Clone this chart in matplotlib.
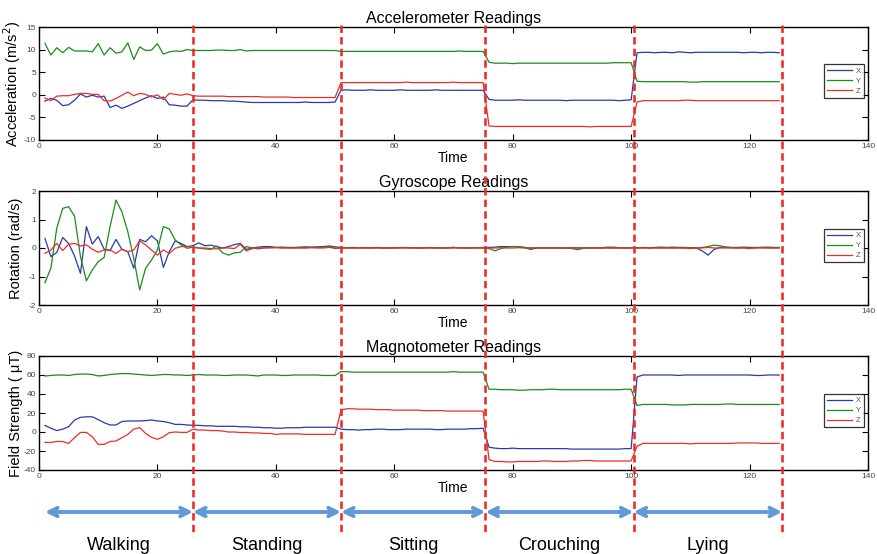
import matplotlib
matplotlib.use("Agg")
import matplotlib.pyplot as plt
import numpy as np

plt.rcParams['font.family'] = ['Liberation Sans', 'DejaVu Sans']
plt.rcParams['axes.unicode_minus'] = False

t = np.arange(1, 126)

# activity boundaries (time) and names
bounds = [1, 26, 51, 75.4, 100.4, 125.5]
activities = ["Walking", "Standing", "Sitting", "Crouching", "Lying"]

# accelerometer (m/s^2)
acc_x = [-1.4, -0.8, -1.2, -2.4, -2.2, -1.2, 0.2, -0.5, -0.1, -0.5, -0.3, -2.8, -2.3, -3.0, -2.5, -1.9, -1.3, -0.7, -0.2, -0.8, -0.5, -2.2, -2.3, -2.5, -2.5,
         -1.1, -1.2, -1.2, -1.3, -1.3, -1.3, -1.4, -1.4, -1.5, -1.6, -1.7, -1.7, -1.7, -1.7, -1.7, -1.7, -1.7, -1.7, -1.7, -1.6, -1.7, -1.7, -1.7, -1.7, -1.6,
         1.0, 1.1, 1.0, 1.0, 1.0, 1.1, 1.0, 1.0, 1.0, 1.0, 1.1, 1.0, 1.0, 1.0, 1.0, 1.0, 1.1, 1.0, 1.0, 1.0, 1.0, 1.0, 1.0, 1.0, 1.0,
         -1.0, -1.2, -1.2, -1.2, -1.2, -1.1, -1.2, -1.2, -1.2, -1.2, -1.2, -1.2, -1.2, -1.3, -1.2, -1.2, -1.2, -1.2, -1.2, -1.2, -1.2, -1.2, -1.3, -1.2, -1.1,
         9.3, 9.4, 9.4, 9.3, 9.4, 9.4, 9.3, 9.5, 9.4, 9.3, 9.4, 9.4, 9.4, 9.4, 9.4, 9.4, 9.4, 9.4, 9.3, 9.4, 9.4, 9.3, 9.4, 9.4, 9.3]
acc_y = [11.4, 8.8, 10.4, 9.3, 10.5, 9.7, 9.7, 9.7, 9.5, 11.3, 8.8, 10.4, 9.2, 9.5, 11.5, 7.8, 10.6, 9.8, 9.9, 11.3, 9.0, 9.5, 9.7, 9.6, 10.0,
         9.8, 9.8, 9.8, 9.8, 9.9, 9.9, 9.8, 9.8, 10.0, 9.7, 9.8, 9.8, 9.8, 9.8, 9.8, 9.8, 9.8, 9.8, 9.8, 9.8, 9.8, 9.8, 9.8, 9.8, 9.8,
         9.6, 9.6, 9.6, 9.6, 9.6, 9.6, 9.6, 9.6, 9.6, 9.6, 9.6, 9.6, 9.6, 9.6, 9.6, 9.6, 9.6, 9.6, 9.6, 9.6, 9.7, 9.6, 9.6, 9.6, 9.6,
         7.2, 7.0, 7.0, 7.0, 6.9, 7.0, 7.0, 7.0, 7.0, 7.0, 7.0, 7.0, 7.0, 7.0, 7.0, 7.0, 7.0, 7.0, 7.0, 7.0, 7.0, 7.1, 7.1, 7.1, 7.1,
         3.0, 2.9, 2.9, 2.9, 2.9, 2.9, 2.9, 2.9, 2.9, 2.8, 2.8, 2.9, 2.9, 2.9, 2.9, 2.9, 2.9, 2.9, 2.9, 2.9, 2.9, 2.9, 2.9, 2.9, 2.9]
acc_z = [-0.7, -1.3, -0.3, -0.2, -0.2, 0.1, 0.3, 0.3, 0.1, 0.1, -1.3, -1.4, -0.8, -0.1, 0.6, -0.2, 0.3, 0.1, -0.5, 0.0, -1.1, 0.3, 0.1, -0.1, 0.2,
         -0.2, -0.3, -0.3, -0.3, -0.3, -0.3, -0.4, -0.4, -0.4, -0.4, -0.4, -0.4, -0.5, -0.5, -0.5, -0.5, -0.5, -0.6, -0.6, -0.6, -0.6, -0.6, -0.6, -0.6, -0.6,
         2.7, 2.7, 2.7, 2.7, 2.7, 2.7, 2.7, 2.7, 2.7, 2.7, 2.7, 2.8, 2.7, 2.7, 2.7, 2.7, 2.7, 2.7, 2.7, 2.8, 2.7, 2.7, 2.7, 2.7, 2.7,
         -6.9, -7.0, -7.0, -7.0, -7.0, -7.0, -7.0, -7.0, -7.0, -7.0, -7.0, -7.0, -7.0, -7.0, -7.0, -7.0, -7.0, -7.1, -7.0, -7.0, -7.0, -7.0, -7.0, -7.0, -7.0,
         -1.6, -1.3, -1.3, -1.3, -1.3, -1.3, -1.3, -1.3, -1.2, -1.2, -1.3, -1.3, -1.3, -1.3, -1.3, -1.3, -1.3, -1.3, -1.3, -1.3, -1.3, -1.3, -1.3, -1.3, -1.3]

# gyroscope (rad/s)
gyr_x = [0.34, -0.30, -0.16, 0.37, 0.16, -0.28, -0.89, 0.75, 0.14, 0.40, -0.04, -0.09, 0.30, -0.05, -0.13, -0.71, 0.30, 0.22, 0.43, 0.25, -0.68, -0.13, 0.25, 0.16, 0.05,
         0.08, 0.18, 0.08, 0.10, 0.05, 0.00, 0.05, 0.12, 0.16, -0.05, 0.00, 0.03, 0.05, 0.05, 0.02, 0.03, 0.02, 0.02, 0.03, 0.04, 0.03, 0.04, 0.05, 0.07, 0.04,
         0.02, 0.01, 0.02, 0.01, 0.00, 0.01, 0.02, 0.01, 0.00, 0.01, 0.01, 0.02, 0.01, 0.00, 0.01, 0.02, 0.01, 0.00, 0.01, 0.02, 0.01, 0.00, 0.01, 0.01, 0.02,
         0.02, 0.03, 0.05, 0.05, 0.05, 0.04, 0.02, -0.05, 0.00, 0.01, 0.01, 0.00, 0.01, 0.00, 0.01, 0.00, 0.01, 0.00, 0.01, 0.00, 0.01, 0.00, 0.01, 0.00, 0.01,
         0.01, 0.02, 0.01, 0.02, 0.03, 0.02, 0.03, 0.02, 0.02, 0.01, 0.00, -0.10, -0.25, -0.05, 0.02, 0.03, 0.02, 0.02, 0.03, 0.02, 0.02, 0.02, 0.03, 0.02, 0.02]
gyr_y = [-1.22, -0.71, 0.69, 1.39, 1.45, 1.12, -0.30, -1.15, -0.77, -0.48, -0.33, 0.75, 1.68, 1.27, 0.57, -0.36, -1.47, -0.71, -0.42, -0.07, 0.75, 0.67, 0.28, 0.11, -0.01,
         0.03, 0.00, -0.03, -0.05, 0.07, -0.17, -0.25, -0.17, -0.15, 0.05, 0.00, -0.03, 0.00, 0.02, 0.02, 0.01, 0.01, 0.00, 0.01, 0.01, 0.02, 0.02, 0.03, 0.05, -0.02,
         0.00, 0.01, 0.00, 0.01, 0.02, 0.00, 0.01, 0.00, 0.01, 0.00, 0.02, 0.01, 0.00, 0.01, 0.00, 0.01, 0.00, 0.01, 0.00, 0.02, 0.00, 0.01, 0.00, 0.01, 0.00,
         -0.02, -0.10, -0.02, 0.03, 0.05, 0.05, 0.02, 0.00, 0.01, 0.00, 0.00, 0.01, 0.00, 0.00, -0.02, -0.06, 0.00, 0.01, 0.00, 0.01, 0.03, 0.03, 0.01, 0.00, 0.01,
         0.00, 0.01, 0.00, 0.01, 0.00, 0.01, 0.00, 0.01, 0.00, 0.01, 0.00, 0.02, 0.05, 0.10, 0.08, 0.03, 0.01, 0.00, 0.01, 0.00, 0.01, 0.02, 0.01, 0.00, 0.01]
gyr_z = [-0.19, -0.07, 0.16, -0.09, 0.13, 0.16, 0.07, 0.11, -0.04, -0.15, -0.07, -0.07, -0.19, -0.04, -0.13, -0.07, 0.25, 0.11, -0.07, -0.25, -0.07, -0.19, -0.01, 0.05, 0.05,
         0.02, 0.00, 0.00, -0.02, -0.03, 0.00, 0.00, -0.02, 0.13, -0.10, -0.02, 0.00, 0.01, 0.00, 0.01, 0.00, 0.00, 0.00, 0.00, 0.00, 0.01, 0.00, 0.00, 0.02, 0.00,
         0.00, 0.00, 0.00, 0.00, 0.00, 0.00, 0.00, 0.00, 0.00, 0.00, 0.00, 0.00, 0.00, 0.00, 0.00, 0.00, 0.00, 0.00, 0.00, 0.00, 0.00, 0.00, 0.00, 0.00, 0.00,
         0.00, 0.00, 0.01, 0.00, 0.00, 0.01, 0.00, 0.00, 0.00, 0.00, 0.00, 0.00, 0.00, 0.00, 0.00, 0.00, 0.00, 0.00, 0.00, 0.00, 0.00, 0.00, 0.00, 0.00, 0.00,
         0.00, 0.00, 0.00, 0.00, 0.00, 0.00, 0.00, 0.00, 0.00, -0.02, 0.00, 0.00, 0.02, 0.00, 0.00, 0.00, 0.00, 0.00, 0.00, -0.02, 0.00, 0.00, 0.00, 0.00, 0.00]

# magnetometer (uT)
mag_x = [7, 4, 1.5, 3, 5.6, 12.6, 15.4, 16, 16, 13, 9.8, 7.4, 7.4, 11, 11.6, 11.6, 11.6, 12, 12.6, 11.6, 11, 9.8, 8, 8, 7.4,
         7, 7, 6.5, 6.5, 6, 6, 6, 6, 5.5, 5.5, 5, 5, 4.5, 4.5, 4, 4, 4.5, 4.5, 4.5, 5, 5, 5, 5, 5, 5,
         3, 2.5, 2.5, 2, 2.5, 2.5, 3, 3, 2.5, 2.5, 2.5, 3, 3, 3, 3, 3, 2.5, 2.5, 3, 3, 3, 3, 3.5, 3.5, 4,
         -16, -17, -17.5, -17.5, -17, -17.5, -17.5, -17.5, -17.5, -17.5, -17.5, -17.5, -17.5, -17.5, -18, -18, -18, -18, -18, -18, -18, -18, -18, -17.5, -17.5,
         58, 60, 60, 60, 60, 60, 60, 59.5, 60, 60, 60, 60, 60, 60, 60, 60, 60, 60, 60, 60, 59.5, 59.5, 60, 60, 60]
mag_y = [59, 59.5, 60, 60, 59.5, 60.5, 61, 61, 60.5, 59, 59.5, 60.5, 61, 61.5, 61.5, 61, 60.5, 60, 59.5, 60, 60.5, 60.5, 60, 60, 59.5,
         60, 60.5, 60, 60, 60, 59.5, 59.5, 60, 60, 60, 59.5, 59, 60, 60, 60, 59.5, 59.5, 60, 60, 60, 60, 60, 59.5, 59.5, 59.5,
         63.5, 63.5, 63, 63, 63, 63, 63, 63, 63, 63, 63, 63, 63, 63, 63, 63, 63, 63, 63, 63.5, 63, 63, 63, 63, 63,
         45, 45, 44.5, 44.5, 44.5, 44, 44, 44.5, 44.5, 44.5, 45, 45, 44.5, 44.5, 44.5, 44.5, 44.5, 44.5, 44.5, 44.5, 44.5, 44.5, 44.5, 45, 45,
         28, 29, 29, 29, 29, 29, 28.5, 28.5, 28.5, 29, 29, 29, 29, 29, 29, 29.5, 29.5, 29, 29, 29, 29, 29, 29, 29, 29]
mag_z = [-11, -11, -10, -10, -12, -6, -0.4, -0.4, -5, -13, -13, -10, -9.5, -6, -2.5, 3, 4.6, -1.4, -5.6, -7.7, -5, -0.7, 0, -0.4, -0.4,
         3, 2, 2, 1.5, 1.5, 1, 0, 0, -0.5, -0.5, -1, -1, -1.5, -1.5, -2.5, -2, -2, -2, -2, -2.5, -2.5, -2.5, -2.5, -2.5, -2.5,
         23, 24.5, 24.5, 24, 24, 24, 23.5, 23.5, 23.5, 23, 23, 23, 23, 23, 22.5, 22.5, 22.5, 22.5, 22, 22, 22, 22, 22, 22, 22,
         -29, -31, -31, -31.5, -31.5, -31, -31, -31, -31, -30.5, -30.5, -31, -31, -31, -30.5, -30.5, -30, -30, -30.5, -30.5, -30.5, -30.5, -30.5, -30.5, -30.5,
         -15, -12, -12, -12, -12, -12, -12, -12, -12, -12.5, -12, -12, -12, -12, -12, -12, -12, -11.5, -11.5, -11.5, -11.5, -12, -12, -12, -12]

W, H = 878, 554
fig = plt.figure(figsize=(W / 100, H / 100), dpi=100)

left = 39 / W
width = (868 - 39) / W
blue, green, red = '#2a3aa8', '#1d8a1d', '#e8302a'

panels = [
    (27, 140, "Accelerometer Readings", "Acceleration (m/s$^2$)", (acc_x, acc_y, acc_z), (-10, 15), [-10, -5, 0, 5, 10, 15]),
    (191, 305, "Gyroscope Readings", "Rotation (rad/s)", (gyr_x, gyr_y, gyr_z), (-2, 2), [-2, -1, 0, 1, 2]),
    (356, 470, "Magnotometer Readings", "Field Strength ( \u03bcT)", (mag_x, mag_y, mag_z), (-40, 80), [-40, -20, 0, 20, 40, 60, 80]),
]

for top, bot, title, ylab, (sx, sy, sz), ylim, yt in panels:
    ax = fig.add_axes([left, 1 - bot / H, width, (bot - top) / H])
    ax.plot(t, sx, color=blue, lw=0.9, label='X')
    ax.plot(t, sy, color=green, lw=0.9, label='Y')
    ax.plot(t, sz, color=red, lw=0.9, label='Z')
    ax.set_xlim(0, 140)
    ax.set_ylim(*ylim)
    ax.set_xticks(range(0, 141, 20))
    ax.set_yticks(yt)
    ax.tick_params(direction='in', top=True, right=True, length=4, width=0.8,
                   labelsize=6, labelcolor='#444444', pad=2)
    for s in ax.spines.values():
        s.set_linewidth(1.0)
    ax.set_title(title, fontsize=11.5, pad=3)
    ax.set_xlabel("Time", fontsize=10, labelpad=1)
    ax.set_ylabel(ylab, fontsize=10.5)
    ax.yaxis.set_label_coords(-0.019, 0.5)
    leg = ax.legend(loc='center right', bbox_to_anchor=(0.9995, 0.52), fontsize=5.5,
                    frameon=True, fancybox=False, edgecolor='black', handlelength=3.2,
                    handletextpad=0.5, borderpad=0.4, labelspacing=0.35, labelcolor='#555555')
    leg.get_frame().set_linewidth(0.9)

# overlay for activity boundaries, arrows and labels (y in pixel units)
ov = fig.add_axes([left, 0, width, 1], zorder=10)
ov.set_xlim(0, 140)
ov.set_ylim(H, 0)
ov.axis('off')
ov.patch.set_visible(False)

for b in bounds[1:]:
    ov.plot([b, b], [25, 536], color='#e8302a', lw=1.9, dashes=(2.8, 1.6))

for i, name in enumerate(activities):
    a, b = bounds[i], bounds[i + 1]
    ov.annotate('', xy=(b, 512), xytext=(a, 512),
                arrowprops=dict(arrowstyle='<->', color='#6199d6', lw=2.8,
                                mutation_scale=15, shrinkA=0, shrinkB=0))
    ov.text((a + b) / 2, 545, name, ha='center', va='center', fontsize=13)

fig.savefig("out.png", dpi=100)
